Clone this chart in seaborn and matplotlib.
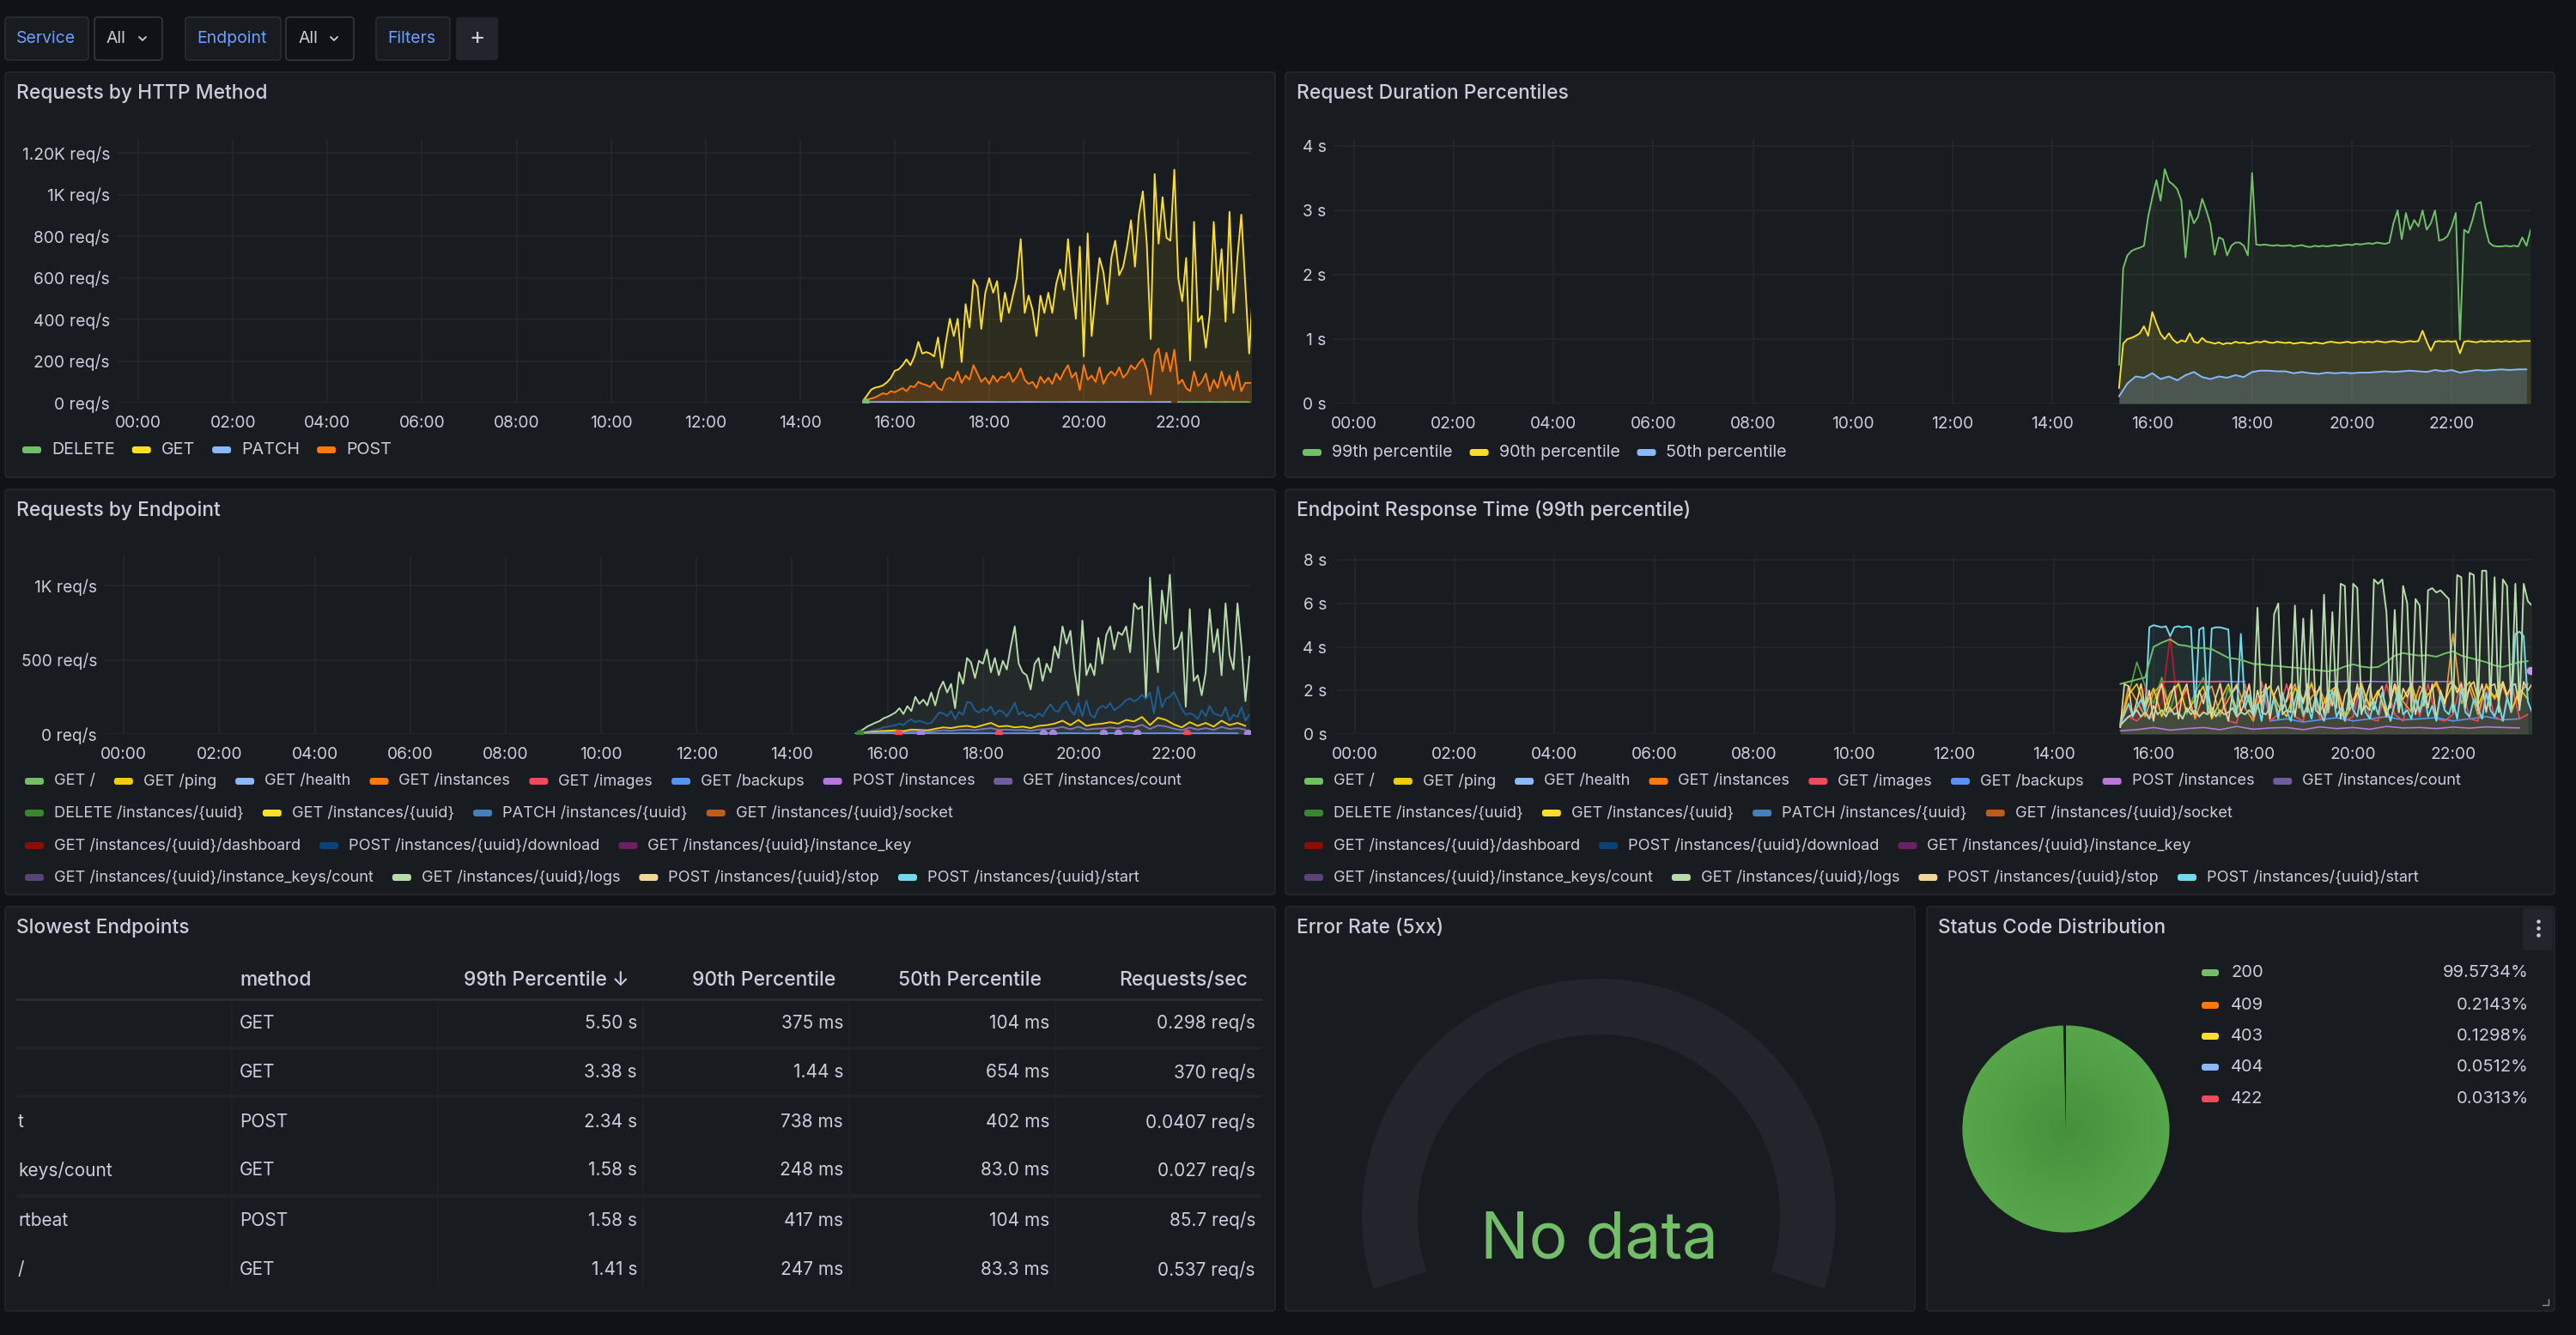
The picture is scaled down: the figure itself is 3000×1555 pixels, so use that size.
import numpy as np
import seaborn as sns
import matplotlib
matplotlib.use("Agg")
import matplotlib.pyplot as plt
from matplotlib.patches import FancyBboxPatch, Wedge
from matplotlib.colors import to_rgb

# ---------------- data ----------------
# Requests by HTTP Method (req/s), 5 min steps from 15:20
get_rps = [10, 35, 62, 72, 76, 83, 97, 118, 153, 160,
           180, 208, 180, 222, 292, 236, 243, 236, 222, 313,
           167, 292, 403, 320, 403, 195, 473, 361, 590, 556,
           354, 528, 598, 528, 584, 389, 528, 431, 514, 598,
           785, 431, 514, 445, 320, 514, 431, 528, 431, 570,
           640, 542, 785, 570, 403, 750, 222, 813, 320, 514,
           695, 626, 473, 695, 778, 612, 653, 750, 876, 653,
           904, 1015, 764, 306, 1098, 764, 987, 792, 778, 1119,
           598, 487, 695, 202, 868, 389, 417, 264, 431, 868,
           542, 737, 389, 917, 431, 695, 903, 570, 236, 556]
post_rps = [5, 15, 20, 25, 35, 45, 40, 55, 50, 60,
            70, 55, 80, 75, 100, 90, 85, 75, 100, 70,
            60, 110, 120, 105, 150, 95, 130, 110, 180, 140,
            100, 120, 90, 130, 100, 125, 120, 145, 100, 125,
            165, 110, 90, 100, 70, 125, 95, 120, 90, 140,
            110, 150, 180, 120, 145, 60, 180, 110, 130, 100,
            170, 90, 130, 150, 130, 170, 120, 140, 180, 160,
            190, 210, 160, 40, 230, 260, 150, 240, 150, 255,
            90, 110, 70, 55, 150, 80, 100, 140, 55, 110,
            70, 150, 80, 130, 60, 150, 55, 95, 95, 95]
patch_rps = [1, 2, 1, 2, 1, 2, 1, 2, 1, 2, 1, 2, 1, 2]      # 30 min steps from 15:20
delete_rps = [2, 1, 2, 1, 2, 1, 2, 1, 2, 1]                  # 10 min steps from 22:00
delete_dot_t = [15.38]
delete_dot_v = [3]
method_names = ["DELETE", "GET", "PATCH", "POST"]

# Request Duration Percentiles (s)
p99_s = [0.6, 2.1, 2.3, 2.37, 2.4, 2.42, 2.45, 2.9, 3.2, 3.47,
         3.15, 3.64, 3.45, 3.4, 3.33, 3.15, 2.27, 3.0, 2.8, 2.9,
         3.18, 3.0, 2.78, 2.31, 2.58, 2.55, 2.3, 2.45, 2.5, 2.5,
         2.45, 2.3, 3.58, 2.47, 2.46, 2.47, 2.46, 2.45, 2.46, 2.45,
         2.45, 2.46, 2.44, 2.45, 2.46, 2.44, 2.43, 2.45, 2.44, 2.45,
         2.44, 2.45, 2.46, 2.45, 2.46, 2.47, 2.46, 2.48, 2.47, 2.48,
         2.49, 2.48, 2.5, 2.49, 2.48, 2.5, 2.8, 3.0, 2.55, 2.96,
         2.7, 2.85, 2.75, 3.0, 2.7, 2.8, 3.0, 2.53, 2.55, 2.6,
         2.75, 2.96, 0.99, 2.7, 2.65, 2.85, 3.1, 3.13, 2.75, 2.5,
         2.45, 2.44, 2.44, 2.45, 2.44, 2.45, 2.44, 2.58, 2.45, 2.7]
p90_s = [0.24, 0.93, 1.0, 1.02, 1.05, 1.09, 1.2, 1.05, 1.42, 1.24,
         1.08, 1.0, 1.09, 0.99, 0.94, 0.98, 0.96, 1.09, 0.96, 0.94,
         1.02, 0.96, 0.95, 0.93, 0.95, 0.92, 0.94, 0.93, 0.96, 0.94,
         0.95, 0.93, 0.94, 0.96, 0.95, 0.97, 0.95, 0.94, 0.96, 0.95,
         0.94, 0.95, 0.93, 0.94, 0.95, 0.94, 0.93, 0.95, 0.94, 0.93,
         0.95, 0.96, 0.95, 0.94, 0.95, 0.96, 0.94, 0.95, 0.96, 0.95,
         0.96, 0.95, 0.97, 0.96, 0.95, 0.96, 0.97, 0.96, 0.95, 0.96,
         0.97, 0.96, 0.97, 1.13, 0.96, 0.82, 0.96, 0.97, 0.96, 0.97,
         0.96, 0.97, 0.78, 0.96, 0.97, 0.96, 0.95, 0.97, 0.96, 0.97,
         0.96, 0.97, 0.96, 0.97, 0.96, 0.97, 0.96, 0.97, 0.97, 0.97]
p50_s = [0.11, 0.31, 0.42, 0.40, 0.47, 0.38, 0.42, 0.36, 0.44, 0.49,   # 10 min steps
         0.41, 0.38, 0.42, 0.40, 0.44, 0.41, 0.49, 0.51, 0.51, 0.50,
         0.50, 0.47, 0.49, 0.47, 0.46, 0.48, 0.47, 0.48, 0.47, 0.48,
         0.48, 0.49, 0.50, 0.49, 0.50, 0.51, 0.50, 0.49, 0.52, 0.50,
         0.52, 0.48, 0.50, 0.52, 0.51, 0.52, 0.53, 0.52, 0.53, 0.53]
pct_names = ["99th percentile", "90th percentile", "50th percentile"]

# Requests by Endpoint (req/s)
logs_rps = [0, 19, 33, 52, 64, 77, 87, 106, 116, 130,
            145, 174, 135, 188, 155, 251, 203, 232, 193, 280,
            193, 300, 354, 280, 338, 174, 416, 338, 512, 483,
            377, 493, 474, 570, 416, 512, 396, 493, 435, 590,
            725, 474, 416, 396, 300, 474, 512, 358, 474, 416,
            590, 512, 725, 609, 696, 435, 261, 764, 396, 474,
            396, 648, 474, 667, 725, 570, 686, 667, 725, 551,
            880, 841, 860, 242, 1054, 667, 416, 967, 745, 1073,
            570, 590, 686, 184, 841, 358, 396, 261, 416, 841,
            551, 706, 396, 880, 532, 435, 880, 590, 222, 522]
download_rps = [0, 5, 10, 15, 25, 30, 35, 45, 50, 55,
                60, 70, 60, 85, 100, 80, 90, 80, 70, 75,
                110, 145, 140, 120, 155, 100, 150, 130, 215, 210,
                160, 145, 170, 155, 185, 130, 160, 150, 120, 160,
                210, 130, 150, 120, 130, 110, 140, 120, 165, 200,
                160, 150, 200, 220, 160, 130, 210, 120, 225, 130,
                110, 170, 190, 175, 210, 160, 180, 200, 230, 240,
                220, 235, 265, 235, 280, 140, 320, 180, 240, 250,
                285, 230, 170, 130, 140, 130, 100, 160, 120, 190,
                140, 130, 120, 180, 90, 130, 115, 180, 90, 130]
instance_rps = [2, 10, 15, 20, 22, 25, 20, 30, 28, 25,          # 10 min steps
                35, 45, 40, 50, 55, 45, 60, 75, 50, 55,
                45, 50, 40, 55, 60, 70, 90, 60, 95, 55,
                65, 70, 80, 70, 95, 85, 115, 60, 110, 95,
                65, 45, 80, 55, 75, 50, 90, 60, 75, 55]
count_rps = [1, 5, 8, 10, 12, 14, 12, 16, 15, 14,               # 10 min steps
             20, 25, 22, 28, 30, 26, 34, 40, 28, 30,
             26, 28, 22, 30, 34, 38, 48, 32, 50, 30,
             36, 38, 44, 38, 52, 46, 62, 34, 58, 52,
             36, 26, 44, 30, 40, 28, 48, 34, 40, 30]
health_rps = [2, 3, 2, 3, 2, 3, 2, 3, 2, 3, 2, 3, 2, 3, 2, 3, 2]  # 30 min steps
red_dot_t = [16.23, 18.33, 22.27]
purple_dot_t = [16.7, 19.27, 19.47, 20.52, 20.83, 21.22, 23.55]
green_dot_t = [15.42]

# Endpoint Response Time, 99th percentile (s)
logs_p99 = [0.4, 0.6, 0.8, 0.9, 1.1, 0.8, 1.0, 0.7, 1.3, 0.9,
            1.1, 0.8, 1.2, 0.9, 1.0, 0.7, 1.2, 0.9, 1.1, 0.8,
            1.0, 0.9, 1.2, 0.8, 1.1, 0.9, 1.0, 1.2, 0.8, 1.0,
            0.9, 1.1, 0.9, 5.8, 1.0, 0.9, 1.2, 5.5, 6.0, 0.9,
            1.1, 1.0, 5.9, 1.2, 5.3, 1.0, 5.7, 1.1, 0.9, 6.4,
            1.0, 5.6, 1.2, 6.9, 6.8, 1.1, 6.9, 6.7, 1.0, 1.3,
            1.1, 7.1, 6.9, 7.1, 5.6, 1.2, 5.7, 1.0, 6.8, 6.0,
            1.1, 6.2, 5.9, 1.3, 6.6, 6.7, 6.5, 6.6, 6.4, 6.2,
            1.0, 7.3, 7.2, 1.2, 7.4, 7.3, 1.1, 7.5, 7.5, 1.3,
            7.2, 1.0, 7.1, 6.8, 1.2, 6.9, 1.1, 6.9, 6.1, 5.9]
root_p99 = [2.3, 2.4, 2.5, 2.6, 4.0, 4.2, 4.35, 4.1, 4.05, 3.95,   # 10 min steps
            3.95, 3.9, 3.7, 3.5, 3.45, 3.35, 3.22, 3.2, 3.15, 3.12,
            3.08, 3.05, 3.0, 2.97, 2.92, 2.88, 2.95, 3.1, 3.2, 3.1,
            3.05, 3.08, 3.3, 3.6, 3.72, 3.65, 3.6, 3.62, 3.55, 3.7,
            3.8, 3.6, 3.5, 3.4, 3.3, 3.15, 3.08, 3.2, 3.3, 3.35]
start_p99 = [0.5, 0.9, 1.4, 0.8, 1.2, 1.6, 1.0, 4.9, 5.0, 4.95,
             4.9, 4.95, 4.5, 4.9, 4.95, 4.9, 4.95, 4.9, 1.2, 4.8,
             4.9, 1.0, 4.85, 4.9, 4.9, 4.85, 4.8, 1.5, 0.9, 4.6,
             1.2, 1.8, 0.8, 1.4, 0.6, 2.1, 1.0, 1.6, 0.7, 1.9,
             1.1, 0.6, 1.5, 2.2, 0.9, 1.3, 0.7, 1.8, 1.0, 0.6,
             1.4, 2.0, 0.8, 1.2, 0.6, 1.7, 1.1, 0.8, 2.1, 1.0,
             0.7, 1.5, 0.9, 1.9, 1.2, 0.6, 1.4, 2.2, 0.9, 1.1,
             0.7, 1.6, 1.0, 2.0, 0.8, 1.3, 0.6, 1.8, 1.1, 0.9,
             1.5, 0.7, 2.1, 1.0, 0.8, 1.6, 1.2, 0.7, 1.9, 1.1,
             0.8, 1.4, 0.6, 1.7, 1.0, 4.6, 4.7, 4.5, 1.5, 1.0]
stop_p99 = [0.3, 2.3, 2.2, 0.8, 1.5, 2.3, 1.2, 2.0, 0.6, 1.8,
            2.3, 1.0, 1.6, 2.2, 0.7, 1.9, 2.3, 1.1, 0.9, 2.0,
            1.4, 2.2, 0.8, 1.7, 2.3, 1.2, 0.6, 1.9, 2.2, 1.0,
            1.5, 2.3, 0.9, 2.0, 1.3, 2.3, 0.7, 1.8, 2.2, 1.1,
            1.6, 2.3, 0.8, 2.1, 1.4, 2.3, 1.0, 1.7, 2.2, 0.9,
            2.0, 1.3, 2.3, 0.7, 1.8, 2.2, 1.2, 2.3, 0.9, 1.6,
            2.3, 1.1, 1.9, 2.2, 0.8, 1.5, 2.3, 1.0, 2.1, 1.7,
            2.3, 0.9, 1.8, 2.2, 1.2, 2.3, 0.7, 2.0, 1.4, 2.3,
            2.4, 1.9, 2.3, 1.3, 2.2, 2.4, 1.6, 2.3, 1.0, 2.2,
            2.3, 1.5, 2.4, 1.8, 2.2, 2.3, 1.2, 2.4, 2.0, 2.3]
ping_p99 = [0.4, 1.8, 2.3, 1.2, 2.1, 0.8, 1.9, 2.3, 1.0, 1.6,     # 10 min steps
            2.2, 0.7, 1.5, 2.3, 1.1, 2.0, 0.9, 1.7, 2.2, 1.3,
            0.8, 2.1, 1.6, 2.3, 1.0, 1.9, 2.2, 0.7, 1.4, 2.3,
            1.2, 2.0, 0.9, 2.2, 1.6, 2.3, 1.1, 1.8, 2.4, 1.5,
            2.3, 1.9, 2.4, 1.3, 2.2, 1.7, 2.4, 1.0, 2.1, 1.6]
instances_p99 = [0.3, 2.2, 1.5, 0.8, 1.9, 2.3, 1.0, 1.4, 2.1, 0.7,
                 1.8, 2.2, 0.9, 1.6, 2.3, 1.2, 0.6, 1.9, 2.2, 1.0,
                 1.5, 2.3, 0.8, 1.7, 2.1, 1.1, 2.3, 0.9, 1.6, 2.2,
                 1.3, 2.0, 0.8, 2.3, 1.5, 1.0, 2.2, 1.8, 2.3, 1.2,
                 4.6, 1.4, 2.1, 0.9, 2.3, 1.6, 2.2, 1.1, 1.9, 2.3]
images_p99 = [0.5, 0.8, 0.6, 1.0, 0.7, 2.4, 2.4, 2.4, 2.4, 2.4,
              2.4, 2.4, 2.4, 0.6, 0.5, 2.3, 0.7, 2.4, 0.6, 0.9,
              2.3, 0.8, 0.6, 2.4, 0.7, 1.0, 2.3, 0.6, 0.8, 2.4,
              0.7, 0.6, 2.3, 0.9, 0.6, 2.4, 0.8, 2.3, 0.7, 0.6,
              0.9, 2.4, 0.7, 0.6, 2.3, 0.8, 0.6, 2.4, 0.7, 0.9]
count_p99_a = [2.4, 2.42, 2.41, 2.42, 2.4, 2.41, 2.42, 2.41, 2.4, 2.41]        # from 16:20
count_p99_b = [2.41, 2.4, 2.42, 2.41, 2.4, 2.42, 2.41, 2.4, 2.41, 2.42,
               2.4, 2.41, 2.42, 2.4, 2.41, 2.42]                                # from 19:30
dashboard_p99 = [0.5, 1.2, 0.8, 2.2, 1.0, 1.4, 4.5, 0.9, 2.0, 0.7, 1.1]        # from 15:20
delete_p99 = [0.6, 1.8, 3.3, 2.2, 1.4, 2.6, 1.1, 2.4, 0.9, 1.9, 2.6, 1.2, 0.8, 2.1, 1.0]
post_inst_p99 = [0.15, 0.2, 0.3, 0.18, 0.25, 0.3, 0.2, 0.35, 0.22, 0.28, 0.3, 0.2, 0.33,
                 0.25, 0.3, 0.22, 0.35, 0.28, 0.3, 0.25, 0.32, 0.27, 0.33, 0.3, 0.28]  # 20 min
backups_p99 = [0.6, 0.7, 0.55, 0.65, 0.75, 0.6, 0.7, 0.8, 0.65, 0.7, 0.75, 0.6, 0.7,
               0.8, 0.65, 0.7]                                                  # 20 min from 18:20

endpoint_rows = [
    [("GET /", "#73bf69"), ("GET /ping", "#f2cc0c"), ("GET /health", "#8ab8ff"),
     ("GET /instances", "#ff780a"), ("GET /images", "#f2495c"), ("GET /backups", "#5794f2"),
     ("POST /instances", "#b877d9"), ("GET /instances/count", "#705da0")],
    [("DELETE /instances/{uuid}", "#37872d"), ("GET /instances/{uuid}", "#fade2a"),
     ("PATCH /instances/{uuid}", "#447ebc"), ("GET /instances/{uuid}/socket", "#c15c17")],
    [("GET /instances/{uuid}/dashboard", "#890f02"), ("POST /instances/{uuid}/download", "#0a437c"),
     ("GET /instances/{uuid}/instance_key", "#6d1f62")],
    [("GET /instances/{uuid}/instance_keys/count", "#584477"), ("GET /instances/{uuid}/logs", "#b7dbab"),
     ("POST /instances/{uuid}/stop", "#f4d598"), ("POST /instances/{uuid}/start", "#70dbed")],
]

# Slowest Endpoints table
table_header = ["", "method", "99th Percentile \u2193", "90th Percentile", "50th Percentile", "Requests/sec"]
endpoint_col = ["", "", "t", "keys/count", "rtbeat", "/"]
method_col = ["GET", "GET", "POST", "GET", "POST", "GET"]
p99_col = ["5.50 s", "3.38 s", "2.34 s", "1.58 s", "1.58 s", "1.41 s"]
p90_col = ["375 ms", "1.44 s", "738 ms", "248 ms", "417 ms", "247 ms"]
p50_col = ["104 ms", "654 ms", "402 ms", "83.0 ms", "104 ms", "83.3 ms"]
rps_col = ["0.298 req/s", "370 req/s", "0.0407 req/s", "0.027 req/s", "85.7 req/s", "0.537 req/s"]

# Status Code Distribution
status_codes = ["200", "409", "403", "404", "422"]
status_share = [99.5734, 0.2143, 0.1298, 0.0512, 0.0313]
status_colors = ["#73bf69", "#ff780a", "#fade2a", "#8ab8ff", "#f2495c"]

# ---------------- style ----------------
W, H, DPI = 3000, 1555, 100
BG, PANEL, BORDER, GRID = "#111217", "#181b1f", "#25272c", "#24262b"
TEXT, LINK = "#ccccdc", "#6e9fff"
HOUR_TICKS = list(range(0, 24, 2))
HOUR_LABELS = [f"{h:02d}:00" for h in HOUR_TICKS]

sns.set_theme(style="dark")
plt.rcParams["font.family"] = ["Inter", "DejaVu Sans"]

fig = plt.figure(figsize=(W / DPI, H / DPI), dpi=DPI, facecolor=BG)
bg = fig.add_axes([0, 0, 1, 1])
bg.set_xlim(0, W)
bg.set_ylim(H, 0)
bg.axis("off")
bg.set_zorder(0)
renderer = fig.canvas.get_renderer()


def px_rect(x0, y0, x1, y1):
    return [x0 / W, 1 - y1 / H, (x1 - x0) / W, (y1 - y0) / H]


def clock(start, n, step):
    h, m = start.split(":")
    return int(h) + int(m) / 60 + np.arange(n) * step / 60


def box(x0, y0, x1, y1, fc, ec="none", r=4, lw=1.2):
    bg.add_patch(FancyBboxPatch((x0, y0), x1 - x0, y1 - y0,
                                boxstyle=f"round,pad=0,rounding_size={r}",
                                fc=fc, ec=ec, lw=lw, zorder=1))


def panel(x0, y0, x1, y1, title):
    box(x0, y0, x1, y1, PANEL, BORDER)
    bg.text(x0 + 13, y0 + 25, title, color=TEXT, fontsize=16.4,
            fontweight="medium", va="center", ha="left", zorder=3)


def flow_legend(x, y, items, fs=14.2, gap=20):
    for label, color in items:
        box(x, y - 4, x + 22, y + 4, color, r=3)
        t = bg.text(x + 34, y, label, color=TEXT, fontsize=fs, va="center", ha="left", zorder=3)
        x = x + 34 + t.get_window_extent(renderer=renderer).width + gap


def ts_axes(rect):
    ax = fig.add_axes(px_rect(*rect))
    ax.set_zorder(2)
    return ax


def finish(ax, xlim, ylim, yticks, ylabels, ypad):
    ax.set_facecolor("none")
    ax.set_xlim(*xlim)
    ax.set_ylim(*ylim)
    ax.set_xticks(HOUR_TICKS)
    ax.set_xticklabels(HOUR_LABELS)
    ax.set_yticks(yticks)
    ax.set_yticklabels(ylabels)
    ax.set_xlabel("")
    ax.set_ylabel("")
    ax.grid(True, color=GRID, linewidth=1.2)
    ax.set_axisbelow(True)
    for s in ax.spines.values():
        s.set_visible(False)
    ax.tick_params(axis="both", length=0, colors=TEXT, labelsize=13.8)
    ax.tick_params(axis="x", pad=11)
    ax.tick_params(axis="y", pad=ypad)


def series(ax, start, step, values, color, lw=1.4, fill=0.0, z=3):
    t = clock(start, len(values), step)
    sns.lineplot(x=t, y=values, ax=ax, color=color, linewidth=lw, legend=False,
                 estimator=None, zorder=z)
    if fill:
        ax.fill_between(t, values, color=color, alpha=fill, linewidth=0, zorder=z - 1)


# ---------------- top bar ----------------
box(6, 20, 103, 70, PANEL, "#2a2d33")
bg.text(19, 45, "Service", color=LINK, fontsize=14, va="center")
box(110, 20, 189, 70, BG, "#34373d")
bg.text(124, 45, "All", color=TEXT, fontsize=14, va="center")
box(216, 20, 327, 70, PANEL, "#2a2d33")
bg.text(229, 45, "Endpoint", color=LINK, fontsize=14, va="center")
box(333, 20, 412, 70, BG, "#34373d")
bg.text(347, 45, "All", color=TEXT, fontsize=14, va="center")
for cx in (166, 389):
    bg.plot([cx - 4, cx, cx + 4], [43, 47, 43], color=TEXT, lw=1.3, zorder=3)
box(438, 20, 524, 70, PANEL, "#2a2d33")
bg.text(451, 45, "Filters", color=LINK, fontsize=14, va="center")
box(531, 20, 580, 70, "#22252b")
bg.text(556, 44, "+", color=TEXT, fontsize=20, va="center", ha="center")

# ---------------- panels ----------------
panel(6, 84, 1485, 556, "Requests by HTTP Method")
panel(1497, 84, 2975, 556, "Request Duration Percentiles")
panel(6, 570, 1485, 1042, "Requests by Endpoint")
panel(1497, 570, 2975, 1042, "Endpoint Response Time (99th percentile)")
panel(6, 1056, 1485, 1527, "Slowest Endpoints")
panel(1497, 1056, 2230, 1527, "Error Rate (5xx)")
panel(2244, 1056, 2975, 1527, "Status Code Distribution")

# Requests by HTTP Method
ax1 = ts_axes((137, 162, 1457, 469))
series(ax1, "15:20", 5, get_rps, "#fade2a", fill=0.09)
series(ax1, "15:20", 5, post_rps, "#ff780a", fill=0.18)
series(ax1, "15:20", 30, patch_rps, "#8ab8ff", lw=1.8)
series(ax1, "22:00", 10, delete_rps, "#73bf69", lw=1.8)
ax1.scatter(delete_dot_t, delete_dot_v, s=28, color="#73bf69", zorder=5)
finish(ax1, (-0.44, 23.54), (0, 1266), [0, 200, 400, 600, 800, 1000, 1200],
       ["0 req/s", "200 req/s", "400 req/s", "600 req/s", "800 req/s", "1K req/s", "1.20K req/s"], 6.5)
flow_legend(26, 524, list(zip(method_names, ["#73bf69", "#fade2a", "#8ab8ff", "#ff780a"])))

# Request Duration Percentiles
ax2 = ts_axes((1553, 162, 2947, 470))
series(ax2, "15:20", 5, p99_s, "#73bf69", fill=0.08)
series(ax2, "15:20", 5, p90_s, "#fade2a", fill=0.13)
series(ax2, "15:20", 10, p50_s, "#8ab8ff", fill=0.2)
finish(ax2, (-0.41, 23.58), (0, 4.107), [0, 1, 2, 3, 4], ["0 s", "1 s", "2 s", "3 s", "4 s"], 6)
flow_legend(1517, 527, list(zip(pct_names, ["#73bf69", "#fade2a", "#8ab8ff"])))

# Requests by Endpoint
ax3 = ts_axes((122, 648, 1456, 855))
series(ax3, "15:20", 5, logs_rps, "#b7dbab", fill=0.08)
series(ax3, "15:20", 5, download_rps, "#1f5c94", fill=0.08)
series(ax3, "15:20", 10, count_rps, "#8071b0", fill=0.1)
series(ax3, "15:20", 10, instance_rps, "#f2cc0c", fill=0.05)
series(ax3, "15:20", 30, health_rps, "#5794f2", lw=2)
ax3.scatter(red_dot_t, [3] * len(red_dot_t), s=34, color="#f2495c", zorder=6)
ax3.scatter(purple_dot_t, [3] * len(purple_dot_t), s=34, color="#a08ad8", zorder=6)
ax3.scatter(green_dot_t, [3], s=30, color="#37872d", zorder=6)
finish(ax3, (-0.40, 23.6), (0, 1197), [0, 500, 1000], ["0 req/s", "500 req/s", "1K req/s"], 6.5)
for i, row in enumerate(endpoint_rows):
    flow_legend(29, [910, 947, 985, 1022][i], row, fs=13.1, gap=22)

# Endpoint Response Time
ax4 = ts_axes((1557, 647, 2948, 855))
series(ax4, "15:20", 20, post_inst_p99, "#b877d9", lw=1.2)
series(ax4, "18:20", 20, backups_p99, "#5794f2", lw=1.2)
series(ax4, "15:20", 10, delete_p99, "#56a64b", lw=1.2, fill=0.04)
series(ax4, "15:20", 10, dashboard_p99, "#c4162a", lw=1.2)
series(ax4, "16:20", 10, count_p99_a, "#8f7bd1", lw=1.2)
series(ax4, "19:30", 10, count_p99_b, "#8f7bd1", lw=1.2)
series(ax4, "15:20", 10, images_p99, "#f2495c", lw=1.2, fill=0.03)
series(ax4, "15:20", 10, instances_p99, "#ff9830", lw=1.2, fill=0.03)
series(ax4, "15:20", 10, ping_p99, "#f2cc0c", lw=1.2, fill=0.03)
series(ax4, "15:20", 5, stop_p99, "#f4d598", lw=1.2, fill=0.04)
series(ax4, "15:20", 5, start_p99, "#70dbed", lw=1.4, fill=0.07)
series(ax4, "15:20", 10, root_p99, "#73bf69", lw=1.4, fill=0.05)
series(ax4, "15:20", 5, logs_p99, "#b7dbab", lw=1.4, fill=0.07)
ax4.scatter([23.56], [2.9], s=34, color="#ca95e5", zorder=6)
finish(ax4, (-0.36, 23.57), (0, 8.2), [0, 2, 4, 6, 8], ["0 s", "2 s", "4 s", "6 s", "8 s"], 8.5)
for i, row in enumerate(endpoint_rows):
    flow_legend(1519, [910, 947, 985, 1022][i], row, fs=13.1, gap=22)

# ---------------- table ----------------
col_edges = [19, 270, 510, 749, 989, 1229, 1469]
row_y = [1192, 1249, 1307, 1363, 1422, 1479]
bg.plot([19, 1469], [1164, 1164], color="#2a2c31", lw=2, zorder=2)
for yy in (1221, 1277, 1393):
    bg.add_patch(plt.Rectangle((19, yy - 2), 1450, 4, fc="#202227", ec="none", zorder=2))
for xx in col_edges[1:-1]:
    bg.plot([xx, xx], [1166, 1498], color="#202227", lw=1.2, zorder=2)
bg.text(279, 1142, table_header[1], color=TEXT, fontsize=16.5, va="center", ha="left", fontweight="medium")
for j in range(2, 6):
    bg.text(col_edges[j + 1] - 16, 1142, table_header[j], color=TEXT, fontsize=16.5,
            va="center", ha="right", fontweight="medium")
columns = [endpoint_col, method_col, p99_col, p90_col, p50_col, rps_col]
for i, yy in enumerate(row_y):
    bg.text(21, yy, endpoint_col[i], color=TEXT, fontsize=15, va="center", ha="left")
    bg.text(279, yy, method_col[i], color=TEXT, fontsize=15, va="center", ha="left")
    for j in range(2, 6):
        bg.text(col_edges[j + 1] - 7, yy, columns[j][i], color=TEXT, fontsize=15,
                va="center", ha="right")

# ---------------- gauge ----------------
bg.add_patch(Wedge((1862, 1416), 276, -198, 18, width=65, fc="#22252b", ec="none", zorder=2))
bg.text(1863, 1465, "No data", color="#73bf69", fontsize=54, va="baseline", ha="center", zorder=3)

# ---------------- pie ----------------
pax = fig.add_axes(px_rect(2406 - 123, 1315 - 123, 2406 + 123, 1315 + 123))
pax.set_zorder(2)
wedges, _ = pax.pie(status_share, colors=status_colors, startangle=90, counterclock=False, radius=1,
                    wedgeprops=dict(edgecolor=PANEL, linewidth=1.0))
# radial shading like the Grafana pie gradient
gy, gx = np.mgrid[-1:1:300j, -1:1:300j]
rad = np.clip(np.hypot(gx, gy), 0, 1)[..., None]
inner, outer = np.array(to_rgb("#46903c")), np.array(to_rgb("#57a64b"))
shade = inner + (outer - inner) * rad
img = pax.imshow(shade, extent=(-1, 1, -1, 1), origin="lower", zorder=1.5, interpolation="bilinear")
img.set_clip_path(wedges[0])
pax.set_xlim(-1.02, 1.02)
pax.set_ylim(-1.02, 1.02)
pax.set_aspect("equal")
pax.axis("off")
for i, (code, share, col) in enumerate(zip(status_codes, status_share, status_colors)):
    yy = [1133, 1171, 1207, 1243, 1280][i]
    box(2564, yy - 4, 2584, yy + 4, col, r=3)
    bg.text(2598, yy, code, color=TEXT, fontsize=14.5, va="center", ha="left", zorder=3)
    bg.text(2945, yy, f"{share}%", color=TEXT, fontsize=14.5, va="center", ha="right", zorder=3)

# panel menu and resize corner
box(2938, 1058, 2973, 1107, "#22252b")
bg.scatter([2956, 2956, 2956], [1073, 1081, 1089], s=5, color=TEXT, zorder=3)
bg.plot([2961, 2968, 2968], [1520, 1520, 1513], color="#8e8e9a", lw=1, zorder=3)

fig.savefig("out.png", dpi=DPI, facecolor=BG)
